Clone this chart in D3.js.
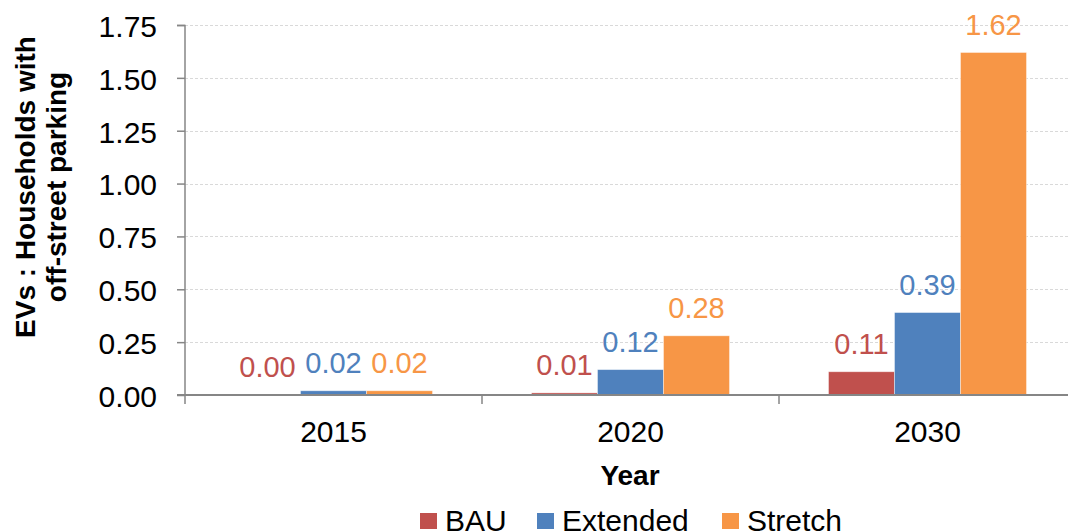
<!DOCTYPE html>
<html>
<head>
<meta charset="utf-8">
<script src="https://cdn.jsdelivr.net/npm/d3@7"></script>
<style>
  html, body { margin: 0; padding: 0; background: #fff; }
  svg { display: block; font-family: "Liberation Sans", Arial, sans-serif; }
</style>
</head>
<body>
<div id="chart"></div>
<script>
// chart data
const years = ['2015', '2020', '2030'];
const seriesNames = ['BAU', 'Extended', 'Stretch'];
const bau = [0.00, 0.01, 0.11];
const extended = [0.02, 0.12, 0.39];
const stretch = [0.02, 0.28, 1.62];
const yTicks = [0, 0.25, 0.5, 0.75, 1.0, 1.25, 1.5, 1.75];
const colors = ['#C0504D', '#4F81BD', '#F79646'];

const W = 1068, H = 531;
const m = { t: 25, l: 185, b: 136 };
const plotW = 297 * 3;
const h = H - m.t - m.b;
const FONT = '"Liberation Sans", Arial, sans-serif';

const svg = d3.select('#chart').append('svg')
  .attr('width', W).attr('height', H);
const g = svg.append('g').attr('transform', `translate(${m.l},${m.t})`);

const x = d3.scaleBand().domain(years).range([0, plotW]);
// Excel-style gap width 150%: 3 bars of 66px inside a 297px category
const x1 = d3.scaleBand().domain(seriesNames).range([0, x.bandwidth()])
  .paddingInner(0).paddingOuter(0.75);
const y = d3.scaleLinear().domain([0, 1.75]).range([h, 0]);

// gridlines
g.append('g')
  .selectAll('line').data(yTicks.filter(d => d > 0)).join('line')
  .attr('x1', 0).attr('x2', W - m.l)
  .attr('y1', d => Math.round(y(d)) + 0.5).attr('y2', d => Math.round(y(d)) + 0.5)
  .attr('stroke', '#d9d9d9').attr('stroke-width', 1)
  .attr('stroke-dasharray', '3,2');

// bars + labels
const rows = [bau, extended, stretch];
const groups = g.append('g').selectAll('g').data(years).join('g')
  .attr('transform', d => `translate(${x(d)},0)`);

groups.each(function(yr, i) {
  const gg = d3.select(this);
  seriesNames.forEach((s, j) => {
    const v = rows[j][i];
    gg.append('rect')
      .attr('x', x1(s)).attr('width', x1.bandwidth())
      .attr('y', y(v)).attr('height', h - y(v))
      .attr('fill', colors[j])
      .attr('stroke', '#fff').attr('stroke-opacity', 0.5).attr('stroke-width', 0.8);
    gg.append('text')
      .attr('x', x1(s) + x1.bandwidth() / 2)
      .attr('y', y(v) - 18)
      .attr('text-anchor', 'middle')
      .attr('font-size', 29)
      .attr('fill', colors[j])
      .text(v.toFixed(2));
  });
});

// y axis
const yAxis = g.append('g')
  .call(d3.axisLeft(y).tickValues(yTicks).tickSize(8).tickPadding(20)
    .tickFormat(d3.format('.2f')));
yAxis.selectAll('path, line').attr('stroke', '#868686').attr('stroke-width', 1.5);
yAxis.select('.domain').attr('d', `M-8,0.5H0V${h}`);
yAxis.selectAll('text').attr('font-size', 30).attr('fill', '#000')
  .attr('font-family', FONT).attr('dy', '0.38em');

// x axis
const xg = g.append('g').attr('transform', `translate(0,${h})`);
xg.append('line').attr('x1', -8).attr('x2', W - m.l)
  .attr('stroke', '#868686').attr('stroke-width', 2);
xg.selectAll('.tk').data(years).join('line')
  .attr('x1', d => x(d)).attr('x2', d => x(d))
  .attr('y1', 0).attr('y2', 9)
  .attr('stroke', '#868686').attr('stroke-width', 1.5);
xg.selectAll('.lbl').data(years).join('text')
  .attr('x', d => x(d) + x.bandwidth() / 2)
  .attr('y', 47)
  .attr('text-anchor', 'middle')
  .attr('font-size', 30)
  .text(d => d);

// axis titles
svg.append('text')
  .attr('x', 630).attr('y', 485)
  .attr('text-anchor', 'middle')
  .attr('font-size', 28).attr('font-weight', 'bold')
  .text('Year');

const yt = svg.append('text')
  .attr('transform', `translate(0,187) rotate(-90)`)
  .attr('text-anchor', 'middle')
  .attr('font-size', 28).attr('font-weight', 'bold');
yt.append('tspan').attr('x', 0).attr('y', 35).text('EVs : Households with');
yt.append('tspan').attr('x', 0).attr('y', 66).text('off-street parking');

// legend
const legX = [420, 537, 722];
const leg = svg.append('g');
seriesNames.forEach((s, i) => {
  leg.append('rect').attr('x', legX[i]).attr('y', 513)
    .attr('width', 17).attr('height', 16).attr('fill', colors[i]);
  leg.append('text').attr('x', legX[i] + 25).attr('y', 531)
    .attr('font-size', 30).text(s);
});
</script>
</body>
</html>
